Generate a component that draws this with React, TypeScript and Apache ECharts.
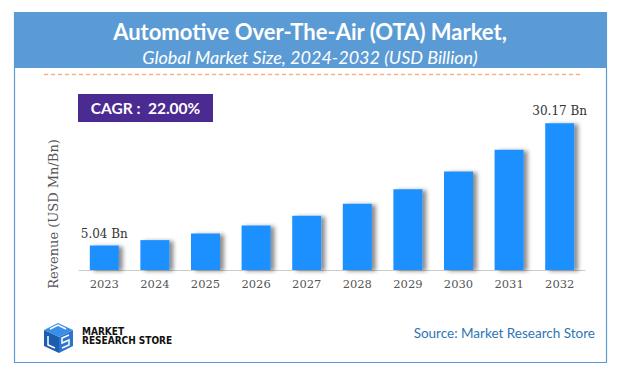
import React, { useEffect, useRef } from "react";
import * as echarts from "echarts";

const categories = ["2023", "2024", "2025", "2026", "2027", "2028", "2029", "2030", "2031", "2032"];
const values = [5.04, 6.15, 7.5, 9.15, 11.16, 13.62, 16.61, 20.27, 24.73, 30.17];
const labeledIndices = [0, 9];
const titleText = "Automotive Over-The-Air (OTA) Market,";
const subtitleText = "Global Market Size, 2024-2032 (USD Billion)";
const cagrText = "CAGR :  22.00%";
const yAxisTitle = "Revenue (USD Mn/Bn)";
const sourceText = "Source: Market Research Store";

export default function App() {
  const ref = useRef<HTMLDivElement>(null);
  useEffect(() => {
    document.body.style.margin = "0";
    const chart = echarts.init(ref.current!, null, { renderer: "svg" });
    const txt = (text: string, x: number, y: number, font: string, fill: string, align = "center") => ({
      type: "text",
      style: { text, x, y, font, fill, textAlign: align, align, textVerticalAlign: "middle", verticalAlign: "middle" },
    });
    chart.setOption({
      animation: false,
      grid: { left: 79, right: 34, top: 95, bottom: 108, containLabel: false },
      xAxis: {
        type: "category",
        data: categories,
        axisLine: { lineStyle: { color: "#cccccc" } },
        axisTick: { show: false },
        axisLabel: { color: "#555555", fontFamily: "DejaVu Serif", fontSize: 11.5, margin: 8 },
      },
      yAxis: { type: "value", min: 0, max: 36, show: false, splitLine: { show: false } },
      series: [
        {
          type: "bar",
          barWidth: 29,
          data: values.map((v, i) => ({
            value: v,
            label: { show: labeledIndices.includes(i) },
          })),
          itemStyle: {
            color: "#1E90FF",
            shadowColor: "rgba(0,0,0,0.45)",
            shadowBlur: 4,
            shadowOffsetX: 4,
            shadowOffsetY: 1,
          },
          label: {
            position: "top",
            distance: 6,
            color: "#333333",
            fontFamily: "DejaVu Serif",
            fontSize: 12,
            formatter: (p: any) => `${p.value} Bn`,
          },
        },
      ],
      graphic: [
        { type: "rect", shape: { x: 14.5, y: 12.5, width: 592, height: 350 }, style: { fill: "#ffffff", stroke: "#5B9BD5", lineWidth: 1.2 }, z: -10 },
        { type: "rect", shape: { x: 14, y: 12, width: 593, height: 56 }, style: { fill: "#5B9BD5" }, z: -5 },
        txt(titleText, 310, 31, "bold 22px Lato", "#ffffff"),
        txt(subtitleText, 310, 57, "italic 18px Lato", "#ffffff"),
        { type: "line", shape: { x1: 44, y1: 74.5, x2: 580, y2: 74.5 }, style: { stroke: "#F4B183", lineWidth: 1.5, lineDash: [4, 3] } },
        { type: "rect", shape: { x: 78, y: 94, width: 135, height: 28 }, style: { fill: "#4B2B92" } },
        txt(cagrText, 145.5, 108, "bold 15.5px Lato", "#ffffff"),
        {
          type: "text",
          x: 53,
          y: 214,
          rotation: Math.PI / 2,
          style: { text: yAxisTitle, x: 0, y: 0, font: "13px 'DejaVu Serif'", fill: "#555555", textAlign: "center", align: "center", textVerticalAlign: "middle", verticalAlign: "middle" },
        },
        txt(sourceText, 595, 333, "13.5px Lato", "#2E75B6", "right"),
        // logo
        { type: "polygon", shape: { points: [[44, 330], [58, 323], [73, 330], [59, 337]] }, style: { fill: "#3A8EE6" } },
        { type: "polygon", shape: { points: [[44, 330], [59, 337], [59, 353], [44, 346]] }, style: { fill: "#1C5DB0" } },
        { type: "polygon", shape: { points: [[59, 337], [73, 330], [73, 346], [59, 353]] }, style: { fill: "#2C74CC" } },
        { type: "polyline", shape: { points: [[50, 329], [58, 325], [66, 329]] }, style: { stroke: "#ffffff", lineWidth: 1.5, fill: "none" } },
        { type: "polyline", shape: { points: [[48, 336], [48, 345], [55, 348]] }, style: { stroke: "#ffffff", lineWidth: 1.5, fill: "none" } },
        { type: "polyline", shape: { points: [[69, 335], [62, 338], [62, 343], [69, 340], [69, 345], [62, 348]] }, style: { stroke: "#ffffff", lineWidth: 1.5, fill: "none" } },
        txt("MARKET", 82, 331, "bold 10px 'DejaVu Sans Condensed', 'Liberation Sans Narrow', Roboto", "#111111", "left"),
        txt("RESEARCH STORE", 82, 340.5, "bold 10px 'DejaVu Sans Condensed', 'Liberation Sans Narrow', Roboto", "#111111", "left"),
      ],
    });
    return () => chart.dispose();
  }, []);
  return <div ref={ref} style={{ width: 619, height: 378 }} />;
}
